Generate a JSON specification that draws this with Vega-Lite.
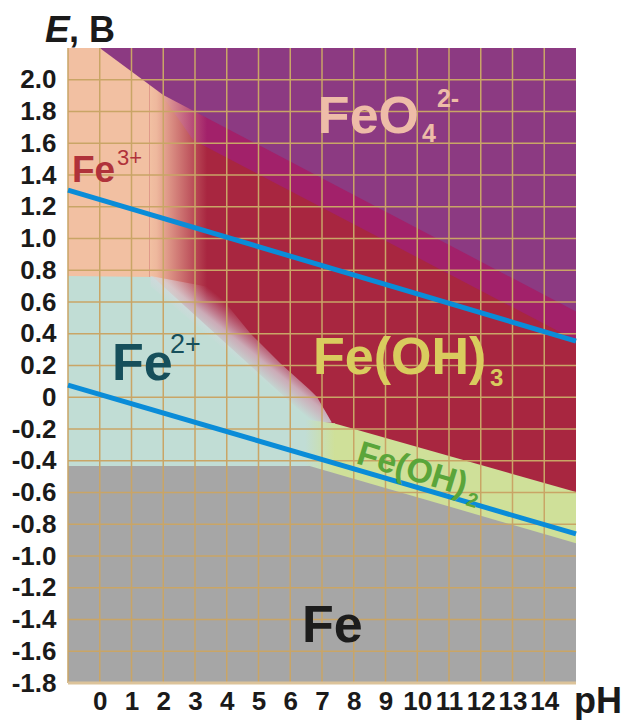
{
  "$schema": "https://vega.github.io/schema/vega-lite/v6.json",
  "width": 508,
  "height": 635,
  "autosize": {"type": "none"},
  "padding": {"left": 68, "top": 48, "right": 48, "bottom": 37},
  "background": "white",
  "config": {
    "view": {"stroke": null},
    "axis": {"grid": false, "ticks": false, "domain": false, "labelFont": "Liberation Sans", "labelFontWeight": "bold", "labelFontSize": 26, "labelColor": "#1a1a1a", "labelFlush": false, "labelOverlap": false},
    "axisX": {"labelPadding": 5},
    "axisY": {"labelPadding": 12}
  },
  "datasets": {
    "regions": [
      {"region": "FeOH3", "pH": -1, "top": 2.2, "bottom": -1.8},
      {"region": "FeOH3", "pH": 15, "top": 2.2, "bottom": -1.8},
      {"region": "band", "pH": 2.0, "top": 2.2, "bottom": 1.891},
      {"region": "band", "pH": 2.94, "top": 2.2, "bottom": 1.62},
      {"region": "band", "pH": 15, "top": 2.2, "bottom": 0.358},
      {"region": "Fe3", "pH": -1, "top": 2.2, "bottom": 0.6},
      {"region": "Fe3", "pH": 1.57, "top": 2.2, "bottom": 0.6},
      {"region": "Fe3fade", "pH": 1.57, "top": 2.2, "bottom": 0.6},
      {"region": "Fe3fade", "pH": 3.38, "top": 2.2, "bottom": 0.6},
      {"region": "FeO4", "pH": 0, "top": 2.2, "bottom": 2.2},
      {"region": "FeO4", "pH": 2.0, "top": 2.2, "bottom": 1.904},
      {"region": "FeO4", "pH": 15, "top": 2.2, "bottom": 0.54},
      {"region": "Fe2", "pH": -1, "top": 0.764, "bottom": -1.8},
      {"region": "Fe2", "pH": 1.677, "top": 0.757, "bottom": -1.8},
      {"region": "Fe2", "pH": 6.622, "top": -0.143, "bottom": -1.8},
      {"region": "Fe2", "pH": 7.41, "top": -0.165, "bottom": -1.8},
      {"region": "Fe2fade", "pH": 1.6, "top": 0.764, "bottom": 0.7},
      {"region": "Fe2fade", "pH": 3.571, "top": 0.69, "bottom": 0.36},
      {"region": "Fe2fade", "pH": 4.732, "top": 0.405, "bottom": 0.15},
      {"region": "Fe2fade", "pH": 5.677, "top": 0.216, "bottom": -0.01},
      {"region": "Fe2fade", "pH": 6.622, "top": 0.046, "bottom": -0.15},
      {"region": "Fe2fade", "pH": 6.843, "top": 0.002, "bottom": -0.155},
      {"region": "Fe2fade", "pH": 7.3, "top": -0.156, "bottom": -0.16},
      {"region": "FeOH2fade", "pH": 6.47, "top": -0.14, "bottom": -1.8},
      {"region": "FeOH2fade", "pH": 7.41, "top": -0.165, "bottom": -1.8},
      {"region": "FeOH2", "pH": 7.4, "top": -0.165, "bottom": -1.8},
      {"region": "FeOH2", "pH": 15, "top": -0.597, "bottom": -1.8},
      {"region": "Fe", "pH": -1, "top": -0.433, "bottom": -1.8},
      {"region": "Fe", "pH": 6.61, "top": -0.433, "bottom": -1.8},
      {"region": "Fe", "pH": 15, "top": -0.92, "bottom": -1.8}
    ],
    "gridX": [
      {"pH": -1}, {"pH": 0}, {"pH": 1}, {"pH": 2}, {"pH": 3}, {"pH": 4}, {"pH": 5}, {"pH": 6},
      {"pH": 7}, {"pH": 8}, {"pH": 9}, {"pH": 10}, {"pH": 11}, {"pH": 12}, {"pH": 13}, {"pH": 14}
    ],
    "gridY": [
      {"E": 2.0}, {"E": 1.8}, {"E": 1.6}, {"E": 1.4}, {"E": 1.2}, {"E": 1.0}, {"E": 0.8},
      {"E": 0.6}, {"E": 0.4}, {"E": 0.2}, {"E": 0}, {"E": -0.2}, {"E": -0.4}, {"E": -0.6},
      {"E": -0.8}, {"E": -1.0}, {"E": -1.2}, {"E": -1.4}, {"E": -1.6}
    ],
    "edge": [{"E": -1.8}],
    "water": [
      {"line": "O2", "pH": -1, "E": 1.305},
      {"line": "O2", "pH": 15, "E": 0.354},
      {"line": "H2", "pH": -1, "E": 0.077},
      {"line": "H2", "pH": 15, "E": -0.861}
    ],
    "labels": [
      {"id": "titleE", "text": "E", "pH": -1.724, "E": 2.238},
      {"id": "titleB", "text": ", B", "pH": -0.97, "E": 2.238},
      {"id": "pH", "text": "pH", "pH": 14.94, "E": -1.989},
      {"id": "FeO4", "text": "FeO", "pH": 6.87, "E": 1.665},
      {"id": "FeO4sub", "text": "4", "pH": 10.15, "E": 1.608},
      {"id": "FeO4sup", "text": "2-", "pH": 10.62, "E": 1.828},
      {"id": "Fe3", "text": "Fe", "pH": -0.874, "E": 1.356},
      {"id": "Fe3sup", "text": "3+", "pH": 0.543, "E": 1.463},
      {"id": "Fe2", "text": "Fe", "pH": 0.386, "E": 0.109},
      {"id": "Fe2sup", "text": "2+", "pH": 2.21, "E": 0.279},
      {"id": "FeOH3", "text": "Fe(OH)", "pH": 6.72, "E": 0.146},
      {"id": "FeOH3sub", "text": "3", "pH": 12.29, "E": 0.071},
      {"id": "FeOH2", "text": "Fe(OH)", "pH": 8.04, "E": -0.414},
      {"id": "FeOH2sub", "text": "2", "pH": 11.5, "E": -0.679},
      {"id": "Fe", "text": "Fe", "pH": 6.37, "E": -1.542}
    ]
  },
  "layer": [
    {
      "data": {"name": "regions"},
      "transform": [{"filter": "datum.region == 'FeOH3'"}],
      "mark": {"type": "area", "color": "#a82640"},
      "encoding": {
        "x": {"field": "pH", "type": "quantitative", "title": null, "scale": {"domain": [-1, 15], "nice": false, "zero": false},
          "axis": {"values": [0,1,2,3,4,5,6,7,8,9,10,11,12,13,14], "tickCount": 100, "format": "d", "labelOverlap": false, "labelBound": false}},
        "y": {"field": "top", "type": "quantitative", "title": null, "scale": {"domain": [-1.8, 2.2], "nice": false, "zero": false},
          "axis": {"values": [2.0,1.8,1.6,1.4,1.2,1.0,0.8,0.6,0.4,0.2,0,-0.2,-0.4,-0.6,-0.8,-1.0,-1.2,-1.4,-1.6,-1.8],
            "tickCount": 100, "labelOverlap": false, "labelBound": false,
            "labelExpr": "datum.value == 0 ? '0' : replace(format(datum.value, '.1f'), '\u2212', '-')"}},
        "y2": {"field": "bottom"}
      }
    },
    {
      "data": {"name": "regions"},
      "transform": [{"filter": "datum.region == 'band'"}],
      "mark": {"type": "area", "color": "#a2216a"},
      "encoding": {
        "x": {"field": "pH", "type": "quantitative", "title": null},
        "y": {"field": "top", "type": "quantitative", "title": null},
        "y2": {"field": "bottom"}
      }
    },
    {
      "data": {"name": "regions"},
      "transform": [{"filter": "datum.region == 'Fe3'"}],
      "mark": {"type": "area", "color": "#f2c0a2"},
      "encoding": {
        "x": {"field": "pH", "type": "quantitative", "title": null},
        "y": {"field": "top", "type": "quantitative", "title": null},
        "y2": {"field": "bottom"}
      }
    },
    {
      "data": {"name": "regions"},
      "transform": [{"filter": "datum.region == 'Fe3fade'"}],
      "mark": {"type": "area", "color": {"gradient": "linear", "x1": 0, "y1": 0, "x2": 1, "y2": 0,
        "stops": [{"offset": 0, "color": "rgba(242,192,162,1)"}, {"offset": 0.12, "color": "rgba(242,192,162,0.95)"}, {"offset": 1, "color": "rgba(242,192,162,0)"}]}},
      "encoding": {
        "x": {"field": "pH", "type": "quantitative", "title": null},
        "y": {"field": "top", "type": "quantitative", "title": null},
        "y2": {"field": "bottom"}
      }
    },
    {
      "data": {"name": "regions"},
      "transform": [{"filter": "datum.region == 'FeO4'"}],
      "mark": {"type": "area", "color": "#8c3a82"},
      "encoding": {
        "x": {"field": "pH", "type": "quantitative", "title": null},
        "y": {"field": "top", "type": "quantitative", "title": null},
        "y2": {"field": "bottom"}
      }
    },
    {
      "data": {"name": "regions"},
      "transform": [{"filter": "datum.region == 'Fe2'"}],
      "mark": {"type": "area", "color": "#c1ddd5"},
      "encoding": {
        "x": {"field": "pH", "type": "quantitative", "title": null},
        "y": {"field": "top", "type": "quantitative", "title": null},
        "y2": {"field": "bottom"}
      }
    },
    {
      "data": {"name": "regions"},
      "transform": [{"filter": "datum.region == 'Fe2fade'"}],
      "mark": {"type": "area", "color": {"gradient": "linear", "x1": 0, "y1": 1, "x2": 1, "y2": 0,
        "stops": [{"offset": 0, "color": "rgba(193,221,213,1)"}, {"offset": 0.45, "color": "rgba(193,221,213,1)"}, {"offset": 0.52, "color": "rgba(215,215,222,0.75)"}, {"offset": 0.62, "color": "rgba(215,180,200,0)"}, {"offset": 1, "color": "rgba(215,180,200,0)"}]}},
      "encoding": {
        "x": {"field": "pH", "type": "quantitative", "title": null},
        "y": {"field": "top", "type": "quantitative", "title": null},
        "y2": {"field": "bottom"}
      }
    },
    {
      "data": {"name": "regions"},
      "transform": [{"filter": "datum.region == 'FeOH2fade'"}],
      "mark": {"type": "area", "color": {"gradient": "linear", "x1": 0, "y1": 0, "x2": 1, "y2": 0,
        "stops": [{"offset": 0, "color": "rgba(207,224,153,0)"}, {"offset": 1, "color": "rgba(207,224,153,1)"}]}},
      "encoding": {
        "x": {"field": "pH", "type": "quantitative", "title": null},
        "y": {"field": "top", "type": "quantitative", "title": null},
        "y2": {"field": "bottom"}
      }
    },
    {
      "data": {"name": "regions"},
      "transform": [{"filter": "datum.region == 'FeOH2'"}],
      "mark": {"type": "area", "color": "#cfe099"},
      "encoding": {
        "x": {"field": "pH", "type": "quantitative", "title": null},
        "y": {"field": "top", "type": "quantitative", "title": null},
        "y2": {"field": "bottom"}
      }
    },
    {
      "data": {"name": "regions"},
      "transform": [{"filter": "datum.region == 'Fe'"}],
      "mark": {"type": "area", "color": "#a6a6a6"},
      "encoding": {
        "x": {"field": "pH", "type": "quantitative", "title": null},
        "y": {"field": "top", "type": "quantitative", "title": null},
        "y2": {"field": "bottom"}
      }
    },
    {
      "data": {"name": "gridX"},
      "mark": {"type": "rule", "color": "#c9a566", "strokeWidth": 1.5},
      "encoding": {"x": {"field": "pH", "type": "quantitative", "title": null}}
    },
    {
      "data": {"name": "gridY"},
      "mark": {"type": "rule", "color": "#c9a566", "strokeWidth": 1.5},
      "encoding": {"y": {"field": "E", "type": "quantitative", "title": null}}
    },
    {
      "data": {"name": "edge"},
      "mark": {"type": "rule", "color": "#dcc39a", "strokeWidth": 3},
      "encoding": {"y": {"field": "E", "type": "quantitative", "title": null}}
    },
    {
      "data": {"name": "water"},
      "mark": {"type": "line", "color": "#0a8cd8", "strokeWidth": 5},
      "encoding": {
        "x": {"field": "pH", "type": "quantitative", "title": null},
        "y": {"field": "E", "type": "quantitative", "title": null},
        "detail": {"field": "line"}
      }
    },
    {
      "data": {"name": "labels"},
      "transform": [{"filter": "datum.id == 'titleE'"}],
      "mark": {"type": "text", "align": "left", "baseline": "alphabetic", "font": "Liberation Sans", "fontWeight": "bold", "fontStyle": "italic", "fontSize": 37, "color": "#1a1a1a"},
      "encoding": {"x": {"field": "pH", "type": "quantitative", "title": null}, "y": {"field": "E", "type": "quantitative", "title": null}, "text": {"field": "text"}}
    },
    {
      "data": {"name": "labels"},
      "transform": [{"filter": "datum.id == 'titleB' || datum.id == 'pH'"}],
      "mark": {"type": "text", "align": "left", "baseline": "alphabetic", "font": "Liberation Sans", "fontWeight": "bold", "fontSize": 36, "color": "#1a1a1a"},
      "encoding": {"x": {"field": "pH", "type": "quantitative", "title": null}, "y": {"field": "E", "type": "quantitative", "title": null}, "text": {"field": "text"}}
    },
    {
      "data": {"name": "labels"},
      "transform": [{"filter": "datum.id == 'FeO4'"}],
      "mark": {"type": "text", "align": "left", "baseline": "alphabetic", "font": "Liberation Sans", "fontWeight": "bold", "fontSize": 52, "color": "#eebca8"},
      "encoding": {"x": {"field": "pH", "type": "quantitative", "title": null}, "y": {"field": "E", "type": "quantitative", "title": null}, "text": {"field": "text"}}
    },
    {
      "data": {"name": "labels"},
      "transform": [{"filter": "datum.id == 'FeO4sub' || datum.id == 'FeO4sup'"}],
      "mark": {"type": "text", "align": "left", "baseline": "alphabetic", "font": "Liberation Sans", "fontWeight": "bold", "fontSize": 25, "color": "#eebca8"},
      "encoding": {"x": {"field": "pH", "type": "quantitative", "title": null}, "y": {"field": "E", "type": "quantitative", "title": null}, "text": {"field": "text"}}
    },
    {
      "data": {"name": "labels"},
      "transform": [{"filter": "datum.id == 'Fe3'"}],
      "mark": {"type": "text", "align": "left", "baseline": "alphabetic", "font": "Liberation Sans", "fontWeight": "bold", "fontSize": 37, "color": "#b0323a"},
      "encoding": {"x": {"field": "pH", "type": "quantitative", "title": null}, "y": {"field": "E", "type": "quantitative", "title": null}, "text": {"field": "text"}}
    },
    {
      "data": {"name": "labels"},
      "transform": [{"filter": "datum.id == 'Fe3sup'"}],
      "mark": {"type": "text", "align": "left", "baseline": "alphabetic", "font": "Liberation Sans", "fontSize": 22, "color": "#b0323a"},
      "encoding": {"x": {"field": "pH", "type": "quantitative", "title": null}, "y": {"field": "E", "type": "quantitative", "title": null}, "text": {"field": "text"}}
    },
    {
      "data": {"name": "labels"},
      "transform": [{"filter": "datum.id == 'Fe2'"}],
      "mark": {"type": "text", "align": "left", "baseline": "alphabetic", "font": "Liberation Sans", "fontWeight": "bold", "fontSize": 52, "color": "#164f5b"},
      "encoding": {"x": {"field": "pH", "type": "quantitative", "title": null}, "y": {"field": "E", "type": "quantitative", "title": null}, "text": {"field": "text"}}
    },
    {
      "data": {"name": "labels"},
      "transform": [{"filter": "datum.id == 'Fe2sup'"}],
      "mark": {"type": "text", "align": "left", "baseline": "alphabetic", "font": "Liberation Sans", "fontSize": 27, "color": "#164f5b"},
      "encoding": {"x": {"field": "pH", "type": "quantitative", "title": null}, "y": {"field": "E", "type": "quantitative", "title": null}, "text": {"field": "text"}}
    },
    {
      "data": {"name": "labels"},
      "transform": [{"filter": "datum.id == 'FeOH3'"}],
      "mark": {"type": "text", "align": "left", "baseline": "alphabetic", "font": "Liberation Sans", "fontWeight": "bold", "fontSize": 52, "color": "#d9cc5e"},
      "encoding": {"x": {"field": "pH", "type": "quantitative", "title": null}, "y": {"field": "E", "type": "quantitative", "title": null}, "text": {"field": "text"}}
    },
    {
      "data": {"name": "labels"},
      "transform": [{"filter": "datum.id == 'FeOH3sub'"}],
      "mark": {"type": "text", "align": "left", "baseline": "alphabetic", "font": "Liberation Sans", "fontWeight": "bold", "fontSize": 24, "color": "#d9cc5e"},
      "encoding": {"x": {"field": "pH", "type": "quantitative", "title": null}, "y": {"field": "E", "type": "quantitative", "title": null}, "text": {"field": "text"}}
    },
    {
      "data": {"name": "labels"},
      "transform": [{"filter": "datum.id == 'FeOH2'"}],
      "mark": {"type": "text", "align": "left", "baseline": "alphabetic", "font": "Liberation Sans", "fontWeight": "bold", "fontSize": 34, "angle": 17, "color": "#5aa53a"},
      "encoding": {"x": {"field": "pH", "type": "quantitative", "title": null}, "y": {"field": "E", "type": "quantitative", "title": null}, "text": {"field": "text"}}
    },
    {
      "data": {"name": "labels"},
      "transform": [{"filter": "datum.id == 'FeOH2sub'"}],
      "mark": {"type": "text", "align": "left", "baseline": "alphabetic", "font": "Liberation Sans", "fontWeight": "bold", "fontSize": 20, "angle": 17, "color": "#5aa53a"},
      "encoding": {"x": {"field": "pH", "type": "quantitative", "title": null}, "y": {"field": "E", "type": "quantitative", "title": null}, "text": {"field": "text"}}
    },
    {
      "data": {"name": "labels"},
      "transform": [{"filter": "datum.id == 'Fe'"}],
      "mark": {"type": "text", "align": "left", "baseline": "alphabetic", "font": "Liberation Sans", "fontWeight": "bold", "fontSize": 52, "color": "#1c1c1c"},
      "encoding": {"x": {"field": "pH", "type": "quantitative", "title": null}, "y": {"field": "E", "type": "quantitative", "title": null}, "text": {"field": "text"}}
    }
  ]
}
